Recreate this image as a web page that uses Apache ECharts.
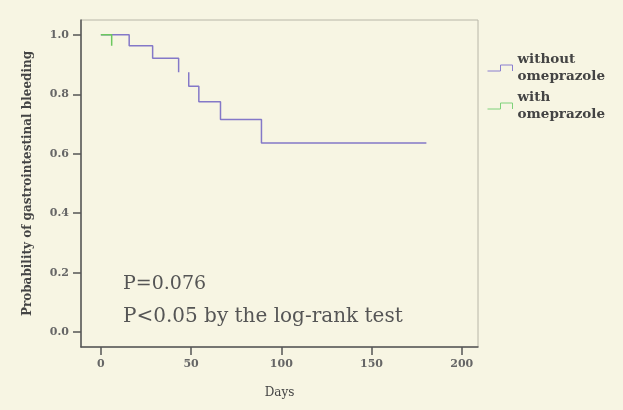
<!DOCTYPE html>
<html>
<head>
<meta charset="utf-8">
<script src="https://cdn.jsdelivr.net/npm/echarts@6/dist/echarts.min.js"></script>
<style>html,body{margin:0;padding:0;background:#f7f5e3;}#c{width:623px;height:410px;}</style>
</head>
<body>
<div id="c"></div>
<script>
// Kaplan-Meier step points [day, probability]
var withoutDays = [0, 15.7, 15.7, 28.7, 28.7, 43.1, 43.1, null, 48.7, 48.7, 54.3, 54.3, 66.3, 66.3, 89, 89, 180.4];
var withoutProb = [1.0, 1.0, 0.963, 0.963, 0.921, 0.921, 0.874, null, 0.874, 0.827, 0.827, 0.775, 0.775, 0.715, 0.715, 0.636, 0.636];
var withDays = [0, 6, 6];
var withProb = [1.0, 1.0, 0.963];
var seriesNames = ['without omeprazole', 'with omeprazole'];
var xTicks = [0, 50, 100, 150, 200];
var yTicks = [0.0, 0.2, 0.4, 0.6, 0.8, 1.0];
var annotations = ['P=0.076', 'P<0.05 by the log-rank test'];

function pairs(xs, ys) {
  return xs.map(function (x, i) { return x === null ? [null, null] : [x, ys[i]]; });
}

var chart = echarts.init(document.getElementById('c'));
var serif = 'DejaVu Serif';
chart.setOption({
  backgroundColor: '#f7f5e3',
  animation: false,
  grid: { left: 81, right: 145, top: 20, bottom: 63, show: true, borderColor: '#b8b6a8', borderWidth: 1, backgroundColor: '#f7f5e3' },
  xAxis: {
    type: 'value', min: -11, max: 209,
    name: 'Days', nameLocation: 'middle', nameGap: 40,
    nameTextStyle: { fontFamily: serif, fontSize: 12, color: '#444' },
    axisLine: { onZero: false, lineStyle: { color: '#555', width: 1.5 } },
    axisTick: { show: true, length: 8, customValues: xTicks, lineStyle: { color: '#555', width: 1.5 } },
    axisLabel: { customValues: xTicks, fontFamily: serif, fontSize: 11, fontWeight: 'bold', color: '#666', margin: 12 },
    splitLine: { show: false }
  },
  yAxis: {
    type: 'value', min: -0.05, max: 1.05,
    name: 'Probability of gastrointestinal bleeding', nameLocation: 'middle', nameGap: 47,
    nameTextStyle: { fontFamily: serif, fontSize: 12, fontWeight: 'bold', color: '#444' },
    axisLine: { show: true, onZero: false, lineStyle: { color: '#555', width: 1.5 } },
    axisTick: { show: true, length: 8, customValues: yTicks, lineStyle: { color: '#555', width: 1.5 } },
    axisLabel: { customValues: yTicks, fontFamily: serif, fontSize: 11, fontWeight: 'bold', color: '#666', margin: 12,
      formatter: function (v) { return v.toFixed(1); } },
    splitLine: { show: false }
  },
  legend: {
    orient: 'vertical', left: 480, top: 46, itemGap: 4,
    itemWidth: 25, itemHeight: 6,
    icon: 'path://M0,6L13,6L13,0L25,0L25,6',
    data: [
      { name: seriesNames[0], itemStyle: { color: 'none', borderColor: '#8a7fd0', borderWidth: 1 } },
      { name: seriesNames[1], itemStyle: { color: 'none', borderColor: '#7fd27a', borderWidth: 1 } }
    ],
    formatter: function (n) { return n.replace(' ', '\n'); },
    textStyle: { fontFamily: serif, fontSize: 13.5, fontWeight: 'bold', color: '#444', lineHeight: 17 }
  },
  graphic: [
    { type: 'text', left: 123, top: 275, style: { text: annotations[0], fontFamily: serif, fontSize: 19, fill: '#555' } },
    { type: 'text', left: 123, top: 307, style: { text: annotations[1], fontFamily: serif, fontSize: 20, fill: '#555' } }
  ],
  series: [
    { name: seriesNames[0], type: 'line', data: pairs(withoutDays, withoutProb), showSymbol: false, connectNulls: false,
      lineStyle: { color: '#8478c8', width: 1.5 }, itemStyle: { color: '#8478c8' } },
    { name: seriesNames[1], type: 'line', data: pairs(withDays, withProb), showSymbol: false,
      lineStyle: { color: '#6cc85e', width: 1.5 }, itemStyle: { color: '#6cc85e' }, z: 3 }
  ]
});
</script>
</body>
</html>
